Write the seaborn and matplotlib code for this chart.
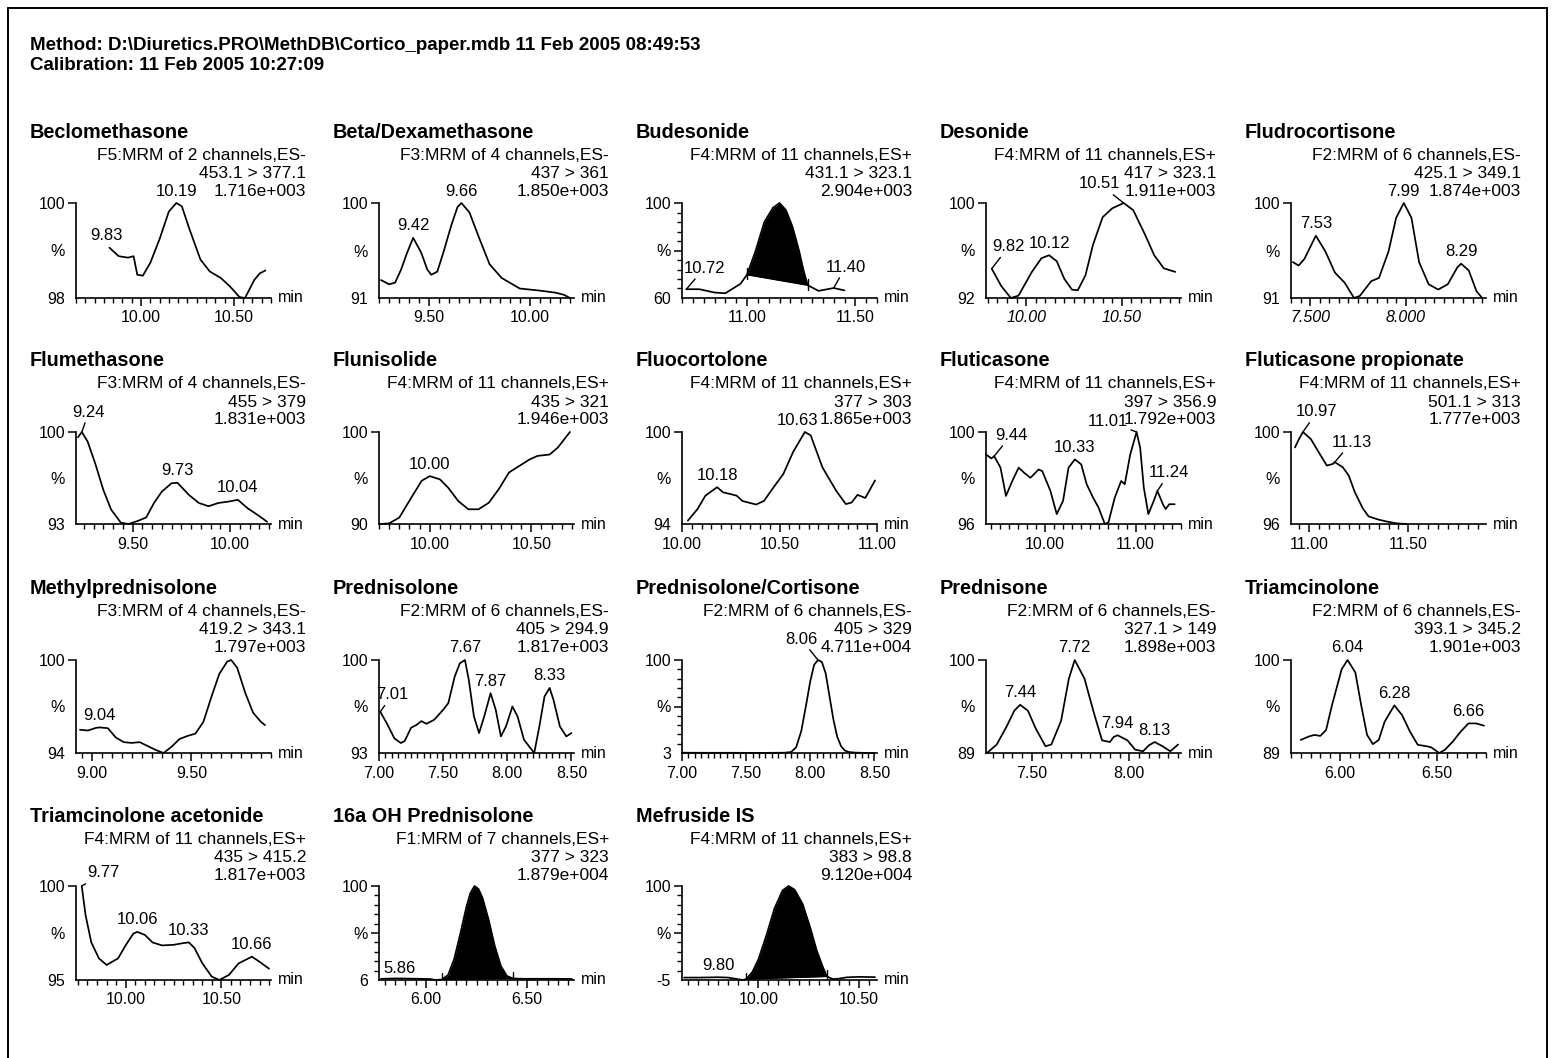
import matplotlib
matplotlib.use("Agg")
import numpy as np
import pandas as pd
import matplotlib.pyplot as plt
from matplotlib.lines import Line2D
from matplotlib.ticker import FixedLocator, MultipleLocator, FormatStrFormatter
import seaborn as sns

sns.set_theme(style="ticks")
plt.rcParams["font.family"] = ["Liberation Sans", "DejaVu Sans"]
plt.rcParams["axes.linewidth"] = 1.2
plt.rcParams["axes.edgecolor"] = "black"
plt.rcParams["text.color"] = "black"
plt.rcParams["xtick.color"] = "black"
plt.rcParams["ytick.color"] = "black"

# ---------------------------------------------------------------- report text
header_method = r"Method: D:\Diuretics.PRO\MethDB\Cortico_paper.mdb 11 Feb 2005 08:49:53"
header_calib = "Calibration: 11 Feb 2005 10:27:09"

titles = ["Beclomethasone", "Beta/Dexamethasone", "Budesonide", "Desonide", "Fludrocortisone",
          "Flumethasone", "Flunisolide", "Fluocortolone", "Fluticasone", "Fluticasone propionate",
          "Methylprednisolone", "Prednisolone", "Prednisolone/Cortisone", "Prednisone", "Triamcinolone",
          "Triamcinolone acetonide", "16a OH Prednisolone", "Mefruside IS"]
functions = ["F5:MRM of 2 channels,ES-", "F3:MRM of 4 channels,ES-", "F4:MRM of 11 channels,ES+",
             "F4:MRM of 11 channels,ES+", "F2:MRM of 6 channels,ES-", "F3:MRM of 4 channels,ES-",
             "F4:MRM of 11 channels,ES+", "F4:MRM of 11 channels,ES+", "F4:MRM of 11 channels,ES+",
             "F4:MRM of 11 channels,ES+", "F3:MRM of 4 channels,ES-", "F2:MRM of 6 channels,ES-",
             "F2:MRM of 6 channels,ES-", "F2:MRM of 6 channels,ES-", "F2:MRM of 6 channels,ES-",
             "F4:MRM of 11 channels,ES+", "F1:MRM of 7 channels,ES+", "F4:MRM of 11 channels,ES+"]
transitions = ["453.1 > 377.1", "437 > 361", "431.1 > 323.1", "417 > 323.1", "425.1 > 349.1",
               "455 > 379", "435 > 321", "377 > 303", "397 > 356.9", "501.1 > 313",
               "419.2 > 343.1", "405 > 294.9", "405 > 329", "327.1 > 149", "393.1 > 345.2",
               "435 > 415.2", "377 > 323", "383 > 98.8"]
intensities = ["1.716e+003", "1.850e+003", "2.904e+003", "1.911e+003", "1.874e+003",
               "1.831e+003", "1.946e+003", "1.865e+003", "1.792e+003", "1.777e+003",
               "1.797e+003", "1.817e+003", "4.711e+004", "1.898e+003", "1.901e+003",
               "1.817e+003", "1.879e+004", "9.120e+004"]
y_base = [98, 91, 60, 92, 91, 93, 90, 94, 96, 96, 94, 93, 3, 89, 89, 95, 6, -5]

# ---------------------------------------------------------------- traces (min, %)
beclo_rt = [9.83, 9.88, 9.93, 9.96, 9.98, 10.01, 10.05, 10.10, 10.15, 10.19, 10.22, 10.26, 10.32,
            10.37, 10.43, 10.48, 10.53, 10.56, 10.61, 10.64, 10.67]
beclo_pct = [99.06, 98.88, 98.85, 98.88, 98.49, 98.47, 98.74, 99.24, 99.82, 100.0, 99.93, 99.46,
             98.81, 98.56, 98.42, 98.24, 98.02, 98.0, 98.38, 98.52, 98.58]
beclo_peaks = [9.83, 10.19]

beta_rt = [9.26, 9.30, 9.33, 9.36, 9.39, 9.42, 9.46, 9.49, 9.51, 9.54, 9.57, 9.61, 9.64, 9.66,
           9.70, 9.75, 9.80, 9.86, 9.95, 10.05, 10.13, 10.17, 10.20]
beta_pct = [92.7, 92.3, 92.45, 93.7, 95.3, 96.7, 95.3, 93.7, 93.2, 93.5, 95.3, 97.9, 99.6, 100.0,
            99.1, 96.6, 94.2, 92.9, 91.9, 91.7, 91.5, 91.3, 91.0]
beta_peaks = [9.42, 9.66]

bude_rt = [10.72, 10.78, 10.85, 10.90, 10.93, 10.97, 11.00, 11.04, 11.08, 11.12, 11.15, 11.18,
           11.21, 11.24, 11.26, 11.28, 11.33, 11.40, 11.45]
bude_pct = [63.7, 63.7, 62.3, 62.0, 63.7, 66.0, 69.8, 80.0, 92.0, 98.0, 100.0, 97.0, 90.0, 80.0,
            72.0, 65.4, 63.0, 64.2, 63.2]
bude_peaks = [10.72, 11.40]

deso_rt = [9.82, 9.87, 9.92, 9.96, 10.03, 10.08, 10.12, 10.16, 10.20, 10.24, 10.27, 10.31, 10.35,
           10.40, 10.45, 10.51, 10.56, 10.62, 10.67, 10.72, 10.78]
deso_pct = [94.47, 93.0, 92.0, 92.2, 94.2, 95.35, 95.6, 95.1, 93.6, 92.7, 92.65, 93.9, 96.5, 98.8,
            99.55, 100.0, 99.4, 97.4, 95.6, 94.5, 94.2]
deso_peaks = [9.82, 10.12, 10.51]

fludro_rt = [7.41, 7.44, 7.47, 7.53, 7.58, 7.63, 7.68, 7.73, 7.76, 7.82, 7.86, 7.91, 7.95, 7.99,
             8.03, 8.07, 8.12, 8.17, 8.22, 8.27, 8.29, 8.33, 8.37, 8.40]
fludro_pct = [94.4, 94.07, 94.7, 96.9, 95.4, 93.4, 92.46, 91.0, 91.2, 92.6, 92.9, 95.4, 98.6, 100.0,
              98.6, 94.4, 92.3, 91.8, 92.3, 93.9, 94.25, 93.6, 91.65, 91.0]
fludro_peaks = [7.53, 7.99, 8.29]

flume_rt = [9.22, 9.24, 9.27, 9.31, 9.35, 9.39, 9.44, 9.48, 9.53, 9.57, 9.61, 9.65, 9.70, 9.73,
            9.79, 9.84, 9.89, 9.94, 9.99, 10.04, 10.09, 10.15, 10.19]
flume_pct = [99.6, 100.0, 99.26, 97.54, 95.6, 94.1, 93.1, 93.0, 93.25, 93.5, 94.6, 95.46, 96.1,
             96.14, 95.2, 94.6, 94.35, 94.6, 94.7, 94.84, 94.2, 93.6, 93.17]
flume_peaks = [9.24, 9.73, 10.04]

fluni_rt = [9.76, 9.80, 9.85, 9.91, 9.96, 10.00, 10.05, 10.09, 10.14, 10.19, 10.24, 10.29, 10.34,
            10.39, 10.44, 10.49, 10.53, 10.59, 10.63, 10.69]
fluni_pct = [90.0, 90.07, 90.7, 92.9, 94.7, 95.2, 94.85, 93.96, 92.5, 91.6, 91.6, 92.3, 93.8, 95.6,
             96.3, 97.0, 97.4, 97.55, 98.3, 100.0]
fluni_peaks = [10.00]

fluoc_rt = [10.03, 10.08, 10.12, 10.18, 10.21, 10.28, 10.31, 10.38, 10.42, 10.47, 10.52, 10.57,
            10.63, 10.66, 10.72, 10.79, 10.84, 10.87, 10.90, 10.94, 10.99]
fluoc_pct = [94.22, 94.98, 95.85, 96.4, 96.07, 95.85, 95.5, 95.27, 95.5, 96.4, 97.27, 98.7, 100.0,
             99.78, 97.7, 96.18, 95.3, 95.4, 95.9, 95.7, 96.84]
fluoc_peaks = [10.18, 10.63]

flutic_rt = [9.35, 9.41, 9.44, 9.51, 9.57, 9.64, 9.71, 9.77, 9.84, 9.93, 9.97, 10.06, 10.13, 10.20,
             10.26, 10.33, 10.40, 10.46, 10.53, 10.59, 10.66, 10.70, 10.77, 10.84, 10.88, 10.94,
             11.01, 11.05, 11.09, 11.14, 11.20, 11.24, 11.30, 11.33, 11.37, 11.43]
flutic_pct = [99.02, 98.85, 98.95, 98.45, 97.22, 97.87, 98.45, 98.23, 98.01, 98.37, 98.30, 97.44,
              96.43, 97.01, 98.45, 98.81, 98.59, 97.73, 97.15, 96.72, 96.0, 96.07, 97.15, 97.87,
              97.73, 99.02, 100.0, 99.31, 97.58, 96.43, 97.01, 97.44, 96.86, 96.65, 96.86, 96.86]
flutic_peaks = [9.44, 10.33, 11.01, 11.24]

flupro_rt = [10.93, 10.95, 10.97, 11.01, 11.05, 11.09, 11.12, 11.13, 11.17, 11.20, 11.23, 11.27,
             11.30, 11.35, 11.39, 11.44, 11.49]
flupro_pct = [99.33, 99.69, 100.0, 99.69, 99.11, 98.54, 98.61, 98.69, 98.47, 98.11, 97.4, 96.69,
              96.33, 96.19, 96.11, 96.03, 96.0]
flupro_peaks = [10.97, 11.13]

mepred_rt = [8.94, 8.98, 9.02, 9.04, 9.08, 9.12, 9.16, 9.20, 9.24, 9.28, 9.32, 9.36, 9.40, 9.44,
             9.48, 9.52, 9.56, 9.60, 9.64, 9.68, 9.70, 9.73, 9.77, 9.81, 9.85, 9.87]
mepred_pct = [95.5, 95.45, 95.62, 95.65, 95.6, 95.0, 94.7, 94.65, 94.7, 94.45, 94.2, 94.0, 94.4,
              94.9, 95.1, 95.25, 96.0, 97.6, 99.1, 99.9, 100.0, 99.5, 97.9, 96.6, 96.0, 95.8]
mepred_peaks = [9.04]

pred_rt = [7.01, 7.06, 7.12, 7.17, 7.20, 7.25, 7.29, 7.33, 7.37, 7.43, 7.50, 7.54, 7.59, 7.63,
           7.67, 7.70, 7.74, 7.78, 7.82, 7.87, 7.91, 7.95, 7.99, 8.04, 8.08, 8.13, 8.21, 8.25,
           8.29, 8.33, 8.36, 8.41, 8.46, 8.50]
pred_pct = [96.1, 95.25, 94.1, 93.75, 93.9, 94.9, 95.1, 95.4, 95.2, 95.5, 96.25, 96.75, 98.75,
            99.75, 100.0, 98.5, 95.75, 94.5, 95.75, 97.5, 96.25, 94.25, 95.0, 96.5, 95.75, 94.0,
            93.0, 95.0, 97.25, 97.9, 97.0, 95.0, 94.25, 94.5]
pred_peaks = [7.01, 7.67, 7.87, 8.33]

predcort_rt = [7.00, 7.20, 7.40, 7.60, 7.80, 7.85, 7.89, 7.93, 7.97, 8.00, 8.03, 8.06, 8.09, 8.12,
               8.15, 8.18, 8.21, 8.24, 8.27, 8.30, 8.35, 8.40, 8.45, 8.50]
predcort_pct = [3.3, 3.2, 3.2, 3.1, 3.3, 4.0, 9.0, 26.0, 55.0, 78.0, 95.0, 100.0, 98.0, 86.0, 62.0,
                38.0, 20.0, 10.0, 5.5, 4.0, 3.4, 3.2, 3.0, 3.0]
predcort_peaks = [8.06]

predn_rt = [7.27, 7.32, 7.37, 7.41, 7.44, 7.48, 7.52, 7.57, 7.60, 7.65, 7.69, 7.72, 7.77, 7.82,
            7.86, 7.90, 7.92, 7.94, 7.99, 8.03, 8.07, 8.10, 8.13, 8.17, 8.21, 8.25]
predn_pct = [89.0, 90.0, 92.1, 94.0, 94.7, 94.0, 91.9, 89.8, 90.0, 92.8, 97.8, 100.0, 97.8, 93.6,
             90.5, 90.3, 90.9, 91.1, 90.5, 89.4, 89.2, 89.9, 90.3, 89.8, 89.2, 90.0]
predn_peaks = [7.44, 7.72, 7.94, 8.13]

triam_rt = [5.80, 5.84, 5.87, 5.90, 5.93, 5.96, 6.01, 6.04, 6.08, 6.11, 6.14, 6.17, 6.20, 6.23,
            6.28, 6.32, 6.36, 6.40, 6.45, 6.47, 6.51, 6.54, 6.58, 6.62, 6.66, 6.70, 6.74]
triam_pct = [90.55, 90.94, 91.14, 91.02, 91.72, 94.64, 98.92, 100.0, 98.52, 94.64, 91.14, 90.05,
             90.55, 92.69, 94.64, 93.47, 91.53, 89.97, 89.78, 89.66, 89.0, 89.39, 90.36, 91.53,
             92.5, 92.5, 92.23]
triam_peaks = [6.04, 6.28, 6.66]

triac_rt = [9.77, 9.79, 9.82, 9.86, 9.90, 9.96, 10.00, 10.04, 10.06, 10.10, 10.14, 10.19, 10.25,
            10.30, 10.33, 10.36, 10.40, 10.45, 10.49, 10.54, 10.59, 10.66, 10.70, 10.75]
triac_pct = [100.0, 98.45, 97.0, 96.15, 95.8, 96.15, 96.85, 97.47, 97.56, 97.4, 97.0, 96.84, 96.87,
             96.96, 97.0, 96.7, 95.9, 95.18, 95.0, 95.27, 95.88, 96.24, 95.97, 95.6]
triac_peaks = [9.77, 10.06, 10.33, 10.66]

ohpred_rt = [5.78, 5.86, 5.94, 6.02, 6.05, 6.08, 6.11, 6.14, 6.17, 6.20, 6.22, 6.24, 6.26, 6.28,
             6.31, 6.34, 6.37, 6.40, 6.43, 6.48, 6.56, 6.64, 6.72]
ohpred_pct = [7.2, 7.6, 7.3, 7.0, 6.0, 6.5, 11.0, 27.0, 52.0, 79.0, 93.0, 100.0, 97.0, 88.0, 66.0,
              40.0, 20.0, 10.0, 7.5, 7.2, 7.2, 7.2, 7.0]
ohpred_peaks = [5.86]

mefru_rt = [9.63, 9.70, 9.76, 9.80, 9.85, 9.89, 9.92, 9.94, 9.97, 10.00, 10.04, 10.08, 10.12,
            10.15, 10.18, 10.22, 10.26, 10.29, 10.32, 10.34, 10.37, 10.40, 10.44, 10.50, 10.58]
mefru_pct = [-2.3, -2.3, -2.1, -1.9, -2.3, -3.8, -5.0, -4.0, 4.0, 18.0, 45.0, 75.0, 95.0, 100.0,
             96.0, 80.0, 52.0, 28.0, 10.0, -1.0, -4.0, -3.5, -2.0, -1.5, -1.8]
mefru_peaks = [9.80]

traces = [(beclo_rt, beclo_pct, beclo_peaks), (beta_rt, beta_pct, beta_peaks),
          (bude_rt, bude_pct, bude_peaks), (deso_rt, deso_pct, deso_peaks),
          (fludro_rt, fludro_pct, fludro_peaks), (flume_rt, flume_pct, flume_peaks),
          (fluni_rt, fluni_pct, fluni_peaks), (fluoc_rt, fluoc_pct, fluoc_peaks),
          (flutic_rt, flutic_pct, flutic_peaks), (flupro_rt, flupro_pct, flupro_peaks),
          (mepred_rt, mepred_pct, mepred_peaks), (pred_rt, pred_pct, pred_peaks),
          (predcort_rt, predcort_pct, predcort_peaks), (predn_rt, predn_pct, predn_peaks),
          (triam_rt, triam_pct, triam_peaks), (triac_rt, triac_pct, triac_peaks),
          (ohpred_rt, ohpred_pct, ohpred_peaks), (mefru_rt, mefru_pct, mefru_peaks)]

# integrated peak windows (start, end) in minutes
integrations = {2: (11.00, 11.28), 16: (6.08, 6.43), 17: (9.94, 10.34)}

# ---------------------------------------------------------------- per-panel axis setup
# (x limits, labelled ticks, minor tick step, label format, italic labels)
axis_setup = [
    ((9.65, 10.70), [10.0, 10.5], 0.05, "%.2f", False),
    ((9.25, 10.22), [9.5, 10.0], 0.05, "%.2f", False),
    ((10.70, 11.60), [11.0, 11.5], 0.05, "%.2f", False),
    ((9.79, 10.81), [10.0, 10.5], 0.05, "%.2f", True),
    ((7.40, 8.42), [7.5, 8.0], 0.05, "%.3f", True),
    ((9.21, 10.21), [9.5, 10.0], 0.05, "%.2f", False),
    ((9.75, 10.71), [10.0, 10.5], 0.05, "%.2f", False),
    ((10.0, 11.0), [10.0, 10.5, 11.0], 0.05, "%.2f", False),
    ((9.35, 11.50), [10.0, 11.0], 0.1, "%.2f", False),
    ((10.91, 11.89), [11.0, 11.5], 0.05, "%.2f", False),
    ((8.92, 9.90), [9.0, 9.5], 0.05, "%.2f", False),
    ((7.0, 8.52), [7.0, 7.5, 8.0, 8.5], 0.05, "%.2f", False),
    ((7.0, 8.52), [7.0, 7.5, 8.0, 8.5], 0.05, "%.2f", False),
    ((7.265, 8.265), [7.5, 8.0], 0.05, "%.2f", False),
    ((5.75, 6.75), [6.0, 6.5], 0.05, "%.2f", False),
    ((9.74, 10.76), [10.0, 10.5], 0.05, "%.2f", False),
    ((5.77, 6.73), [6.0, 6.5], 0.05, "%.2f", False),
    ((9.62, 10.59), [10.0, 10.5], 0.05, "%.2f", False),
]

# peak label placement: pixel offset of label centre from the apex, leader line flag
label_offsets = [
    [(-3, 12, False), (0, 12, False)],
    [(0, 12, False), (0, 12, False)],
    [(18, 21, True), (12, 21, True)],
    [(17, 22, True), (0, 12, False), (-24, 19, True)],
    [(0, 12, False), (0, 12, False), (0, 12, False)],
    [(7, 20, True), (0, 12, False), (0, 12, False)],
    [(0, 12, False)],
    [(0, 12, False), (-7, 12, False)],
    [(17, 21, True), (0, 12, False), (-29, 11, True), (12, 18, True)],
    [(14, 20, True), (17, 20, True)],
    [(0, 12, False)],
    [(12, 17, True), (0, 12, False), (0, 12, False), (0, 12, False)],
    [(-17, 21, True)],
    [(0, 12, False), (0, 12, False), (0, 12, False), (0, 12, False)],
    [(0, 12, False), (0, 12, False), (0, 12, False)],
    [(22, 13, True), (0, 12, False), (0, 12, False), (0, 12, False)],
    [(2, 10, False)],
    [(0, 12, False)],
]

# ---------------------------------------------------------------- page geometry (pixels)
W, H = 1555, 1058
col_x = [30, 333, 636, 940, 1245]
row_title = [133, 361, 589, 817]
row_top = [203, 432, 660, 886]
row_bot = [298, 524, 753, 980]
AX_OFF, AX_W, TXT_W = 46, 195, 276

fig = plt.figure(figsize=(W / 100, H / 100), dpi=100)
fig.patch.set_facecolor("white")


def fx(px):
    return px / W


def fy(py):
    return 1 - py / H


# page frame
for xs, ys in [((8, 1547), (8, 8)), ((8, 8), (8, 1070)), ((1547, 1547), (8, 1070))]:
    fig.add_artist(Line2D([fx(x) for x in xs], [fy(y) for y in ys], color="black", lw=1.4))

fig.text(fx(30), fy(45), header_method, fontsize=13.5, weight="bold", va="center", ha="left")
fig.text(fx(30), fy(65), header_calib, fontsize=13.5, weight="bold", va="center", ha="left")

for i, (rt, pct, peaks) in enumerate(traces):
    col, row = i % 5, i // 5
    tx = col_x[col]
    top, bot = row_top[row], row_bot[row]
    left = tx + AX_OFF
    xlim, majors, minor_step, fmt, italic = axis_setup[i]
    base = y_base[i]

    ax = fig.add_axes([fx(left), fy(bot), AX_W / W, (bot - top) / H])
    ax.patch.set_alpha(0)
    df = pd.DataFrame({"rt": rt, "pct": pct})
    sns.lineplot(data=df, x="rt", y="pct", ax=ax, color="black", lw=1.25,
                 sort=False, estimator=None)
    for ln in ax.lines:
        ln.set_clip_on(False)

    if i in integrations:
        x0, x1 = integrations[i]
        rta, pcta = np.array(rt), np.array(pct)
        y0, y1 = pcta[rt.index(x0)], pcta[rt.index(x1)]
        m = (rta >= x0) & (rta <= x1)
        floor = np.interp(rta[m], [x0, x1], [y0, y1])
        ax.fill_between(rta[m], pcta[m], floor, color="black", lw=0)
        ax.plot([x0, x1], [y0, y1], color="black", lw=1.0)
        span = 100 - base
        for xe, ye in ((x0, y0), (x1, y1)):
            ax.plot([xe, xe], [ye - 0.05 * span, ye + 0.07 * span], color="black", lw=1.0)

    ax.set_xlim(*xlim)
    ax.set_ylim(base, 100)
    ax.set_xlabel("")
    ax.set_ylabel("")
    sns.despine(ax=ax)

    ax.xaxis.set_major_locator(FixedLocator(majors))
    ax.xaxis.set_minor_locator(MultipleLocator(minor_step))
    ax.xaxis.set_major_formatter(FormatStrFormatter(fmt))
    ax.tick_params(axis="x", which="major", length=6, width=1.1, pad=3, labelsize=11.5)
    ax.tick_params(axis="x", which="minor", length=3.5, width=1.0)
    if italic:
        for lab in ax.get_xticklabels():
            lab.set_style("italic")

    dense = base < 70
    ax.set_yticks([base, (base + 100) / 2, 100])
    ax.set_yticklabels([f"{base:g}", "%", "100"])
    ax.tick_params(axis="y", which="major", length=6, width=1.1, pad=2, labelsize=11.5)
    yt = ax.yaxis.get_major_ticks()
    yt[0].tick1line.set_visible(False)
    if dense:
        ax.yaxis.set_minor_locator(FixedLocator(np.linspace(base, 100, 11)))
        ax.tick_params(axis="y", which="minor", length=3.5, width=1.0)
    else:
        yt[1].tick1line.set_visible(False)

    fig.text(fx(left + AX_W + 7), fy(bot), "min", fontsize=11.5, va="center", ha="left")

    fig.text(fx(tx), fy(row_title[row]), titles[i], fontsize=14.3, weight="bold",
             va="center", ha="left")
    for k, line in enumerate([functions[i], transitions[i], intensities[i]]):
        fig.text(fx(tx + TXT_W), fy(row_title[row] + 23 + 18 * k), line, fontsize=12.5,
                 va="center", ha="right")

    for p, (dx, dy, leader) in zip(peaks, label_offsets[i]):
        py = pct[rt.index(p)]
        kw = {}
        if leader:
            kw["arrowprops"] = dict(arrowstyle="-", color="black", lw=1.0,
                                    shrinkA=0, shrinkB=0)
        ax.annotate(f"{p:.2f}", xy=(p, py), xytext=(dx, dy), textcoords="offset pixels",
                    ha="center", va="center", fontsize=12, annotation_clip=False, **kw)

fig.savefig("out.png", dpi=100, facecolor="white")
